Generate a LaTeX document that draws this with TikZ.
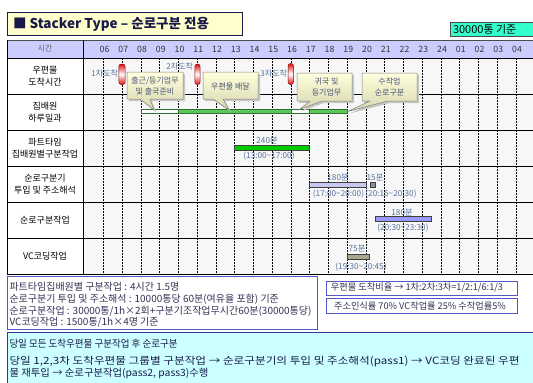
\documentclass[tikz,border=0pt]{standalone}
\usepackage{graphicx}
\usepackage{fontspec}
\setmainfont{Noto Sans CJK KR}
\newcommand{\fsz}[2]{\fontsize{#1}{#2}\selectfont}
\newcommand{\fitto}[2]{\resizebox{#1}{\height}{#2}}
\newcommand{\hx}[1]{(103.5+18.75*(#1-6))}
\definecolor{navy}{HTML}{1A1A4A}
\definecolor{titlefill}{HTML}{FFFFCC}
\definecolor{kijun}{HTML}{33FFCC}
\definecolor{headfill}{HTML}{CCCCFF}
\definecolor{bodyfill}{HTML}{F7F7F7}
\definecolor{lblue}{HTML}{5872A0}
\definecolor{cyA}{HTML}{FFFFDD}
\definecolor{cyB}{HTML}{D6D6AE}
\definecolor{ctext}{HTML}{4A5578}
\definecolor{capred}{HTML}{E01010}
\definecolor{gfill}{HTML}{5CC85C}
\definecolor{gdraw}{HTML}{2F6F2F}
\definecolor{ptgreen}{HTML}{00CC00}
\definecolor{lav}{HTML}{C8C8F0}
\definecolor{bluebar}{HTML}{9999FF}
\definecolor{vcbar}{HTML}{A8A890}
\definecolor{noteb}{HTML}{5555CC}
\definecolor{notetext}{HTML}{333355}
\definecolor{cyanfill}{HTML}{CCFFFF}
\definecolor{cyanb}{HTML}{333399}
\begin{document}
\begin{tikzpicture}[x=1pt,y=-1pt,
  every node/.style={inner sep=0pt,outer sep=0pt},
  rowlab/.style={align=center,font=\fsz{9}{12},text=black},
  hourlab/.style={font=\fsz{8.7}{9},text=black!80},
  gridd/.style={black,line width=0.6pt,dash pattern=on 1.6pt off 1.4pt},
  rowline/.style={black,line width=0.8pt},
  callbox/.style={draw=black!50,line width=0.5pt,top color=cyA,bottom color=cyB},
  callshadow/.style={fill=black!22},
  calltext/.style={align=center,font=\fsz{8}{11},text=ctext},
  capsule/.style={draw=capred!60!black,line width=0.5pt,rounded corners=2.5pt,top color=capred,bottom color=capred,middle color=white},
  arrlab/.style={font=\fsz{8}{8},text=lblue},
  barlab/.style={font=\fsz{8.2}{8},text=lblue},
  whitebar/.style={draw=gdraw,line width=0.6pt,fill=white},
  greenbar/.style={draw=gdraw,line width=0.6pt,fill=gfill},
  taskbar/.style={draw=black!75,line width=0.7pt},
  notebox/.style={draw=noteb,line width=0.9pt,fill=white},
  notetxt/.style={anchor=west,font=\fsz{10}{10},text=notetext},
  boxtxt/.style={font=\fsz{9.2}{10},text=notetext},
  bottxt/.style={anchor=west,font=\fsz{10}{10},text=navy},
]
\useasboundingbox (0,0) rectangle (533,383);
\fill[white] (0,0) rectangle (533,383);

% title
\draw[fill=titlefill,draw=navy,line width=0.9pt] (7,12) rectangle (242,35.5);
\node[anchor=west,font=\fsz{13.5}{14}\bfseries,text=navy] (title) at (13,24) {■ Stacker Type – 순로구분 전용};
\draw[fill=kijun,draw=black!70,line width=0.6pt] (450.5,22) rectangle (536,36);
\node[anchor=west,font=\fsz{11}{11},text=black] (kijun) at (453,29.2) {30000통 기준};

% table
\fill[headfill] (7,40) rectangle (534,58);
\fill[bodyfill] (83,58) rectangle (534,274);
\node[font=\fsz{8}{9},text=black!60] (sigan) at (45,49) {시간};
\foreach \lab [count=\k from 0] in {06,07,08,09,10,11,12,13,14,15,16,17,18,19,20,21,22,23,24,01,02,03,04}
  \node[hourlab] (h\k) at ({104.5+18.75*\k},49.3) {\lab};
\foreach \k in {0,...,22}
  \draw[gridd] ({103.5+18.75*\k},58) -- ({103.5+18.75*\k},274);
\draw[black!70,line width=0.8pt] (7,40) -- (534,40);
\foreach \yy in {58,94,130,166,202,238,274}
  \draw[rowline] (7,\yy) -- (534,\yy);
\draw[rowline] (7,40) -- (7,274);
\draw[black,line width=1pt] (83,40) -- (83,274);

\node[rowlab] (r1) at (45,76) {우편물\\도착시간};
\node[rowlab] (r2) at (45,112) {집배원\\하루일과};
\node[rowlab] (r3) at (45,148) {파트타임\\집배원별구분작업};
\node[rowlab] (r4) at (45,184) {순로구분기\\투입 및 주소해석};
\node[rowlab] (r5) at (45,220) {순로구분작업};
\node[rowlab] (r6) at (45,256) {VC코딩작업};

% arrivals
\draw[capsule] (118.8,64) rectangle (125.2,84.5);
\draw[capsule] (194.8,64) rectangle (200.2,84.5);
\draw[capsule] (288,63.5) rectangle (293.5,84.5);
\node[arrlab,anchor=east] (a1) at (118,73.3) {1차도착};
\node[arrlab,anchor=east] (a2) at (193,66) {2차도착};
\node[arrlab,anchor=east] (a3) at (287,73.3) {3차도착};

% daily bar
\draw[whitebar] ({\hx{8}},109.5) rectangle ({\hx{10}},113.5);
\draw[greenbar] ({\hx{10}},109.5) rectangle ({\hx{16}},113.5);
\draw[whitebar] ({\hx{16}},109.5) rectangle ({\hx{17}},113.5);
\draw[greenbar] ({\hx{17}},109.5) rectangle ({\hx{19}},113.5);

% callouts
\fill[callshadow,shift={(2,2)}] (127,72) -- (183,72) -- (183,99) -- (150,99) -- (154,110) -- (140,99) -- (127,99) -- cycle;
\draw[callbox] (127,72) -- (183,72) -- (183,99) -- (150,99) -- (154,110) -- (140,99) -- (127,99) -- cycle;
\node[calltext] (c1) at (155,85.5) {출근/등기업무\\및 출국준비};
\fill[callshadow,shift={(2,2)}] (203,72) -- (258,72) -- (258,99) -- (223,99) -- (229,110) -- (213,99) -- (203,99) -- cycle;
\draw[callbox] (203,72) -- (258,72) -- (258,99) -- (223,99) -- (229,110) -- (213,99) -- (203,99) -- cycle;
\node[calltext] (c2) at (230.5,86.5) {우편물 배달};
\fill[callshadow,shift={(2,2)}] (297,73) -- (352,73) -- (352,101) -- (322,101) -- (299.5,109.5) -- (310,101) -- (297,101) -- cycle;
\draw[callbox] (297,73) -- (352,73) -- (352,101) -- (322,101) -- (299.5,109.5) -- (310,101) -- (297,101) -- cycle;
\node[calltext] (c3) at (326.5,87) {귀국 및\\등기업무};
\fill[callshadow,shift={(2,2)}] (362,73) -- (417,73) -- (417,101) -- (388,101) -- (347.5,111.5) -- (370,101) -- (362,101) -- cycle;
\draw[callbox] (362,73) -- (417,73) -- (417,101) -- (388,101) -- (347.5,111.5) -- (370,101) -- (362,101) -- cycle;
\node[calltext] (c4) at (389.5,87) {수작업\\순로구분};

% part-time
\draw[taskbar,fill=ptgreen] ({\hx{13}},145) rectangle ({\hx{17}},150);
\node[barlab] (l1a) at (267,140) {240분};
\node[barlab] (l1b) at (269,155.5) {(13:00\textasciitilde17:00)};

% sorter input
\draw[taskbar,fill=lav] ({\hx{17}},182.5) rectangle ({\hx{20}},187.5);
\draw[taskbar,fill=lav!70!black] ({\hx{20.25}},182.5) rectangle ({\hx{20.5}},187.5);
\node[barlab] (l2a) at (338,177) {180분};
\node[barlab] (l2b) at (338.5,193.5) {(17:00\textasciitilde20:00)};
\node[barlab] (l3a) at (375,177) {15분};
\node[barlab] (l3b) at (391,193.5) {(20:15\textasciitilde20:30)};

% route sorting
\draw[taskbar,fill=bluebar] ({\hx{20.5}},216.5) rectangle ({\hx{23.5}},221.5);
\node[barlab] (l4a) at (402,212) {180분};
\node[barlab] (l4b) at (403,227.5) {(20:30\textasciitilde23:30)};

% VC coding
\draw[taskbar,fill=vcbar] (347.3,254) rectangle (369.3,259.5);
\node[barlab] (l5a) at (357,248) {75분};
\node[barlab] (l5b) at (361,266.5) {(19:30\textasciitilde20:45)};

% notes
\draw[notebox] (7,276.5) rectangle (317,329);
\node[notetxt] (n1) at (9.5,287) {파트타임집배원별 구분작업 : 4시간 1.5명};
\node[notetxt] (n2) at (9.5,299) {순로구분기 투입 및 주소해석 : 10000통당 60분(여유율 포함) 기준};
\node[notetxt] (n3) at (9.5,311) {순로구분작업 : 30000통/1h×2회+구분기조작업무시간60분(30000통당)};
\node[notetxt] (n4) at (9.5,322.5) {VC코딩작업 : 1500통/1h×4명 기준};
\draw[notebox] (326,281) rectangle (517,295);
\node[boxtxt] (rb1) at (417,288) {우편물 도착비율 → 1차:2차:3차=1/2:1/6:1/3};
\draw[notebox] (326,298.5) rectangle (517,313);
\node[boxtxt] (rb2) at (420,306) {주소인식률 70\% VC작업률 25\% 수작업률5\%};

% bottom box
\draw[fill=cyanfill,draw=cyanb,line width=1pt] (7,332.5) rectangle (536,392);
\node[bottxt] (b1) at (9.5,344) {\fitto{168pt}{당일 모든 도착우편물 구분작업 후 순로구분}};
\node[bottxt] (b2) at (9.5,361) {\fitto{510pt}{당일 1,2,3차 도착우편물 그룹별 구분작업 → 순로구분기의 투입 및 주소해석(pass1) → VC코딩 완료된 우편}};
\node[bottxt] (b3) at (9.5,374) {\fitto{199pt}{물 재투입 → 순로구분작업(pass2, pass3)수행}};
\end{tikzpicture}
\end{document}
